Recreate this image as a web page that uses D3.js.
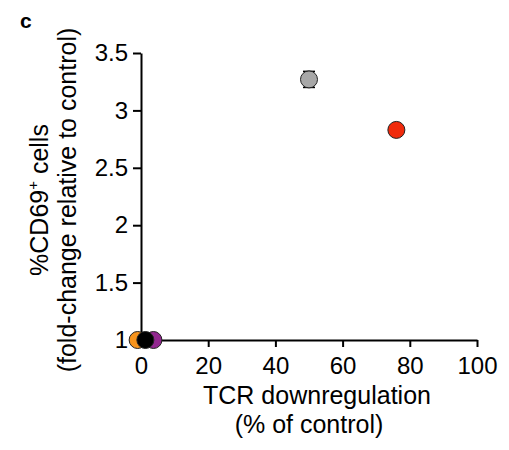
<!DOCTYPE html>
<html>
<head>
<meta charset="utf-8">
<script src="https://cdn.jsdelivr.net/npm/d3@7"></script>
<style>
  body { margin: 0; background: #fff; }
  text { font-family: "Liberation Sans", Arial, sans-serif; }
</style>
</head>
<body>
<svg width="509" height="450"></svg>
<script>
// data
const groups = ["orange", "purple", "black", "gray", "red"];
const tcrDown = [-1, 3.7, 1.3, 50, 76];       // % of control
const cd69Fold = [1, 1, 1, 3.27, 2.83];       // fold-change
const cd69Err = [0, 0.04, 0, 0.07, 0];
const colors = ["#f7941d", "#92278f", "#000000", "#a8a8a8", "#f02a0c"];
const xTicks = [0, 20, 40, 60, 80, 100];
const yTicks = [1, 1.5, 2, 2.5, 3, 3.5];

const svg = d3.select("svg");

const x = d3.scaleLinear().domain([0, 100]).range([141, 477]);
const y = d3.scaleLinear().domain([1, 3.5]).range([340, 53]);

// y axis
const yAxis = svg.append("g")
    .attr("transform", "translate(141,0)")
    .call(d3.axisLeft(y).tickValues(yTicks).tickSize(8).tickPadding(5)
        .tickFormat(d => d3.format("")(d)).tickSizeOuter(0));
yAxis.select(".domain").attr("stroke-width", 2);
yAxis.selectAll(".tick line").attr("stroke-width", 2);
yAxis.selectAll("text").attr("font-size", 24).attr("fill", "#000")
    .attr("font-family", "Liberation Sans, Arial, sans-serif");

// x axis
const xAxis = svg.append("g")
    .attr("transform", "translate(0,340)")
    .call(d3.axisBottom(x).tickValues(xTicks).tickSize(7).tickPadding(10).tickSizeOuter(0));
xAxis.select(".domain").attr("stroke-width", 2);
xAxis.selectAll(".tick line").attr("stroke-width", 2);
xAxis.selectAll("text").attr("font-size", 24).attr("fill", "#000")
    .attr("font-family", "Liberation Sans, Arial, sans-serif");

// error bars
const pts = groups.map((g, i) => ({g: g, x: tcrDown[i], y: cd69Fold[i], e: cd69Err[i], c: colors[i]}));
const eb = svg.append("g");
pts.filter(d => d.e > 0).forEach(d => {
    const cx = x(d.x);
    eb.append("line").attr("x1", cx).attr("x2", cx)
        .attr("y1", y(d.y - d.e)).attr("y2", y(d.y + d.e))
        .attr("stroke", "#000").attr("stroke-width", 1.5);
    [d.y - d.e, d.y + d.e].forEach(v => {
        eb.append("line").attr("x1", cx - 6).attr("x2", cx + 6)
            .attr("y1", y(v)).attr("y2", y(v))
            .attr("stroke", "#000").attr("stroke-width", 1.5);
    });
});

// points
svg.append("g").selectAll("circle")
    .data(pts)
    .enter()
    .append("circle")
    .attr("cx", d => x(d.x))
    .attr("cy", d => y(d.y))
    .attr("r", 8.5)
    .attr("fill", d => d.c)
    .attr("stroke", "#222")
    .attr("stroke-width", 1);

// axis titles
svg.append("text").attr("x", 317).attr("y", 404)
    .attr("text-anchor", "middle").attr("font-size", 25)
    .text("TCR downregulation");
svg.append("text").attr("x", 309).attr("y", 433)
    .attr("text-anchor", "middle").attr("font-size", 25)
    .text("(% of control)");

const yl = svg.append("g").attr("transform", "translate(0,200) rotate(-90)");
const l1 = yl.append("text").attr("x", 0).attr("y", 48)
    .attr("text-anchor", "middle").attr("font-size", 25);
l1.append("tspan").text("%CD69");
l1.append("tspan").attr("font-size", 15).attr("dy", -10).text("+");
l1.append("tspan").attr("dy", 10).text(" cells");
yl.append("text").attr("x", 0).attr("y", 76)
    .attr("text-anchor", "middle").attr("font-size", 25)
    .text("(fold-change relative to control)");

// panel letter
svg.append("text").attr("x", 20).attr("y", 28)
    .attr("font-size", 21).attr("font-weight", "bold")
    .text("c");
</script>
</body>
</html>
